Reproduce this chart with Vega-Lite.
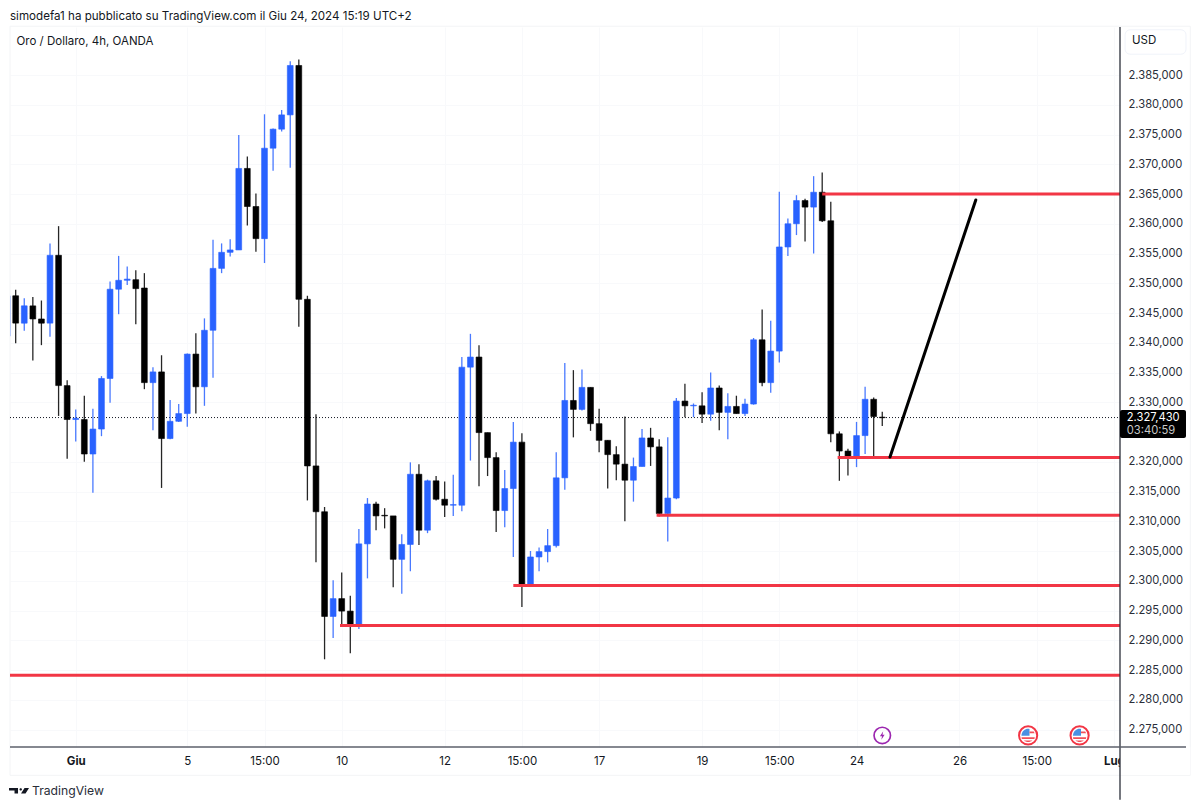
{"$schema":"https://vega.github.io/schema/vega-lite/v6.json","autosize":{"type":"none"},"width":1110,"height":720,"padding":{"left":10,"top":27,"right":80,"bottom":61},"background":"#ffffff",
"title":{"text":"simodefa1 ha pubblicato su TradingView.com il Giu 24, 2024 15:19 UTC+2","anchor":"start","frame":"group","offset":3,"dx":0,"font":"Inter","fontSize":11.6,"fontWeight":"normal","color":"#131722"},
"config":{"view":{"stroke":null}},
"datasets":{
"candles":[
{"i":0,"o":2341.1,"h":2347.9,"l":2341.1,"c":2347.9,"d":"up"},
{"i":1,"o":2347.9,"h":2348.9,"l":2339.9,"c":2343.3,"d":"down"},
{"i":2,"o":2343.3,"h":2347.5,"l":2342.0,"c":2346.2,"d":"up"},
{"i":3,"o":2346.2,"h":2347.7,"l":2337.0,"c":2344.0,"d":"down"},
{"i":4,"o":2344.0,"h":2347.1,"l":2339.6,"c":2343.3,"d":"down"},
{"i":5,"o":2343.3,"h":2356.7,"l":2341.0,"c":2354.7,"d":"up"},
{"i":6,"o":2354.7,"h":2359.6,"l":2327.7,"c":2332.8,"d":"down"},
{"i":7,"o":2332.8,"h":2333.7,"l":2320.5,"c":2327.1,"d":"down"},
{"i":8,"o":2327.1,"h":2328.8,"l":2323.4,"c":2327.3,"d":"up"},
{"i":9,"o":2327.1,"h":2331.1,"l":2320.0,"c":2321.3,"d":"down"},
{"i":10,"o":2321.3,"h":2328.9,"l":2314.8,"c":2325.5,"d":"up"},
{"i":11,"o":2325.5,"h":2334.4,"l":2324.3,"c":2334.0,"d":"up"},
{"i":12,"o":2334.0,"h":2350.3,"l":2329.9,"c":2349.0,"d":"up"},
{"i":13,"o":2349.0,"h":2354.6,"l":2344.8,"c":2350.5,"d":"up"},
{"i":14,"o":2350.5,"h":2352.8,"l":2349.7,"c":2350.7,"d":"up"},
{"i":15,"o":2350.6,"h":2352.2,"l":2343.1,"c":2349.1,"d":"down"},
{"i":16,"o":2349.2,"h":2351.7,"l":2332.2,"c":2333.3,"d":"down"},
{"i":17,"o":2333.3,"h":2335.9,"l":2325.3,"c":2335.1,"d":"up"},
{"i":18,"o":2335.1,"h":2337.9,"l":2315.6,"c":2323.9,"d":"down"},
{"i":19,"o":2323.9,"h":2330.4,"l":2323.8,"c":2326.8,"d":"up"},
{"i":20,"o":2326.8,"h":2329.7,"l":2326.7,"c":2328.1,"d":"up"},
{"i":21,"o":2328.1,"h":2338.2,"l":2325.9,"c":2338.1,"d":"up"},
{"i":22,"o":2338.1,"h":2341.6,"l":2328.1,"c":2332.6,"d":"down"},
{"i":23,"o":2332.6,"h":2344.1,"l":2329.4,"c":2342.1,"d":"up"},
{"i":24,"o":2342.1,"h":2357.3,"l":2334.1,"c":2352.5,"d":"up"},
{"i":25,"o":2352.5,"h":2356.7,"l":2351.7,"c":2355.2,"d":"up"},
{"i":26,"o":2355.2,"h":2357.4,"l":2354.5,"c":2355.6,"d":"up"},
{"i":27,"o":2355.6,"h":2374.9,"l":2355.6,"c":2369.3,"d":"up"},
{"i":28,"o":2369.3,"h":2371.3,"l":2359.7,"c":2362.9,"d":"down"},
{"i":29,"o":2362.9,"h":2365.1,"l":2355.3,"c":2357.5,"d":"down"},
{"i":30,"o":2357.5,"h":2378.4,"l":2353.4,"c":2372.7,"d":"up"},
{"i":31,"o":2372.7,"h":2376.0,"l":2368.9,"c":2375.9,"d":"up"},
{"i":32,"o":2375.9,"h":2379.1,"l":2375.5,"c":2378.3,"d":"up"},
{"i":33,"o":2378.3,"h":2387.3,"l":2369.4,"c":2386.6,"d":"up"},
{"i":34,"o":2386.6,"h":2387.6,"l":2342.7,"c":2347.3,"d":"down"},
{"i":35,"o":2347.3,"h":2347.9,"l":2313.5,"c":2319.3,"d":"down"},
{"i":36,"o":2319.3,"h":2328.0,"l":2303.1,"c":2311.6,"d":"down"},
{"i":37,"o":2311.6,"h":2312.4,"l":2286.8,"c":2294.0,"d":"down"},
{"i":38,"o":2294.0,"h":2300.1,"l":2290.4,"c":2297.0,"d":"up"},
{"i":39,"o":2297.0,"h":2301.4,"l":2292.7,"c":2294.9,"d":"down"},
{"i":40,"o":2294.9,"h":2297.5,"l":2287.8,"c":2292.5,"d":"down"},
{"i":41,"o":2292.5,"h":2308.7,"l":2291.9,"c":2306.2,"d":"up"},
{"i":42,"o":2306.2,"h":2313.9,"l":2300.4,"c":2312.9,"d":"up"},
{"i":43,"o":2312.9,"h":2313.3,"l":2308.5,"c":2310.9,"d":"down"},
{"i":44,"o":2311.0,"h":2312.2,"l":2308.8,"c":2310.9,"d":"down"},
{"i":45,"o":2310.9,"h":2310.9,"l":2298.9,"c":2303.6,"d":"down"},
{"i":46,"o":2303.6,"h":2307.8,"l":2297.8,"c":2306.1,"d":"up"},
{"i":47,"o":2306.1,"h":2319.9,"l":2301.6,"c":2317.9,"d":"up"},
{"i":48,"o":2317.9,"h":2319.6,"l":2306.0,"c":2308.5,"d":"down"},
{"i":49,"o":2308.5,"h":2317.0,"l":2308.0,"c":2316.8,"d":"up"},
{"i":50,"o":2316.8,"h":2317.6,"l":2313.5,"c":2313.7,"d":"down"},
{"i":51,"o":2313.7,"h":2316.7,"l":2310.7,"c":2312.7,"d":"down"},
{"i":52,"o":2312.7,"h":2317.8,"l":2310.9,"c":2312.8,"d":"up"},
{"i":53,"o":2312.7,"h":2337.6,"l":2311.7,"c":2335.9,"d":"up"},
{"i":54,"o":2335.9,"h":2341.5,"l":2320.2,"c":2337.6,"d":"up"},
{"i":55,"o":2337.6,"h":2339.6,"l":2315.9,"c":2324.9,"d":"down"},
{"i":56,"o":2324.9,"h":2324.9,"l":2317.6,"c":2320.7,"d":"down"},
{"i":57,"o":2320.7,"h":2321.6,"l":2308.2,"c":2311.8,"d":"down"},
{"i":58,"o":2311.8,"h":2318.6,"l":2309.0,"c":2315.5,"d":"up"},
{"i":59,"o":2315.5,"h":2326.7,"l":2304.0,"c":2323.3,"d":"up"},
{"i":60,"o":2323.3,"h":2324.8,"l":2295.6,"c":2299.2,"d":"down"},
{"i":61,"o":2299.2,"h":2305.0,"l":2299.2,"c":2304.0,"d":"up"},
{"i":62,"o":2304.0,"h":2305.6,"l":2301.6,"c":2304.9,"d":"up"},
{"i":63,"o":2304.9,"h":2308.7,"l":2303.1,"c":2305.9,"d":"up"},
{"i":64,"o":2305.9,"h":2321.6,"l":2305.6,"c":2317.3,"d":"up"},
{"i":65,"o":2317.3,"h":2336.6,"l":2315.3,"c":2330.3,"d":"up"},
{"i":66,"o":2330.3,"h":2335.4,"l":2324.1,"c":2328.8,"d":"down"},
{"i":67,"o":2328.8,"h":2335.5,"l":2328.6,"c":2332.5,"d":"up"},
{"i":68,"o":2332.5,"h":2332.5,"l":2325.2,"c":2326.4,"d":"down"},
{"i":69,"o":2326.4,"h":2328.9,"l":2321.6,"c":2323.6,"d":"down"},
{"i":70,"o":2323.6,"h":2323.6,"l":2315.5,"c":2321.2,"d":"down"},
{"i":71,"o":2321.2,"h":2322.6,"l":2316.9,"c":2319.6,"d":"down"},
{"i":72,"o":2319.6,"h":2327.6,"l":2310.0,"c":2316.9,"d":"down"},
{"i":73,"o":2316.9,"h":2320.7,"l":2313.3,"c":2319.2,"d":"up"},
{"i":74,"o":2319.2,"h":2325.5,"l":2319.2,"c":2324.0,"d":"up"},
{"i":75,"o":2324.0,"h":2325.7,"l":2319.3,"c":2322.5,"d":"down"},
{"i":76,"o":2322.5,"h":2323.8,"l":2310.8,"c":2311.3,"d":"down"},
{"i":77,"o":2311.3,"h":2324.1,"l":2306.6,"c":2313.9,"d":"up"},
{"i":78,"o":2313.9,"h":2330.7,"l":2313.7,"c":2330.2,"d":"up"},
{"i":79,"o":2330.2,"h":2333.1,"l":2327.5,"c":2329.4,"d":"down"},
{"i":80,"o":2329.4,"h":2329.8,"l":2327.5,"c":2329.5,"d":"up"},
{"i":81,"o":2329.4,"h":2331.7,"l":2326.5,"c":2328.0,"d":"down"},
{"i":82,"o":2328.0,"h":2335.0,"l":2326.9,"c":2332.4,"d":"up"},
{"i":83,"o":2332.4,"h":2332.8,"l":2325.3,"c":2328.3,"d":"down"},
{"i":84,"o":2328.3,"h":2331.5,"l":2323.8,"c":2329.3,"d":"up"},
{"i":85,"o":2329.3,"h":2331.1,"l":2328.1,"c":2328.1,"d":"down"},
{"i":86,"o":2328.1,"h":2330.6,"l":2327.7,"c":2329.7,"d":"up"},
{"i":87,"o":2329.7,"h":2340.8,"l":2329.6,"c":2340.5,"d":"up"},
{"i":88,"o":2340.5,"h":2345.6,"l":2332.7,"c":2333.3,"d":"down"},
{"i":89,"o":2333.3,"h":2343.7,"l":2331.6,"c":2338.6,"d":"up"},
{"i":90,"o":2338.6,"h":2365.4,"l":2336.7,"c":2356.1,"d":"up"},
{"i":91,"o":2356.1,"h":2360.9,"l":2354.6,"c":2360.0,"d":"up"},
{"i":92,"o":2360.0,"h":2364.8,"l":2358.1,"c":2363.9,"d":"up"},
{"i":93,"o":2363.9,"h":2364.2,"l":2357.0,"c":2362.8,"d":"down"},
{"i":94,"o":2362.8,"h":2368.0,"l":2355.0,"c":2365.3,"d":"up"},
{"i":95,"o":2365.3,"h":2368.6,"l":2360.3,"c":2360.5,"d":"down"},
{"i":96,"o":2360.5,"h":2363.7,"l":2323.3,"c":2324.7,"d":"down"},
{"i":97,"o":2324.7,"h":2325.1,"l":2316.8,"c":2321.8,"d":"down"},
{"i":98,"o":2321.8,"h":2322.2,"l":2317.7,"c":2320.8,"d":"down"},
{"i":99,"o":2320.8,"h":2326.7,"l":2319.1,"c":2324.4,"d":"up"},
{"i":100,"o":2324.4,"h":2332.6,"l":2321.3,"c":2330.5,"d":"up"},
{"i":101,"o":2330.5,"h":2330.8,"l":2320.7,"c":2327.6,"d":"down"},
{"i":102,"o":2327.5,"h":2328.4,"l":2326.0,"c":2327.4,"d":"down"}
],
"levels":[{"i":95,"i2":129.708,"y":2365.0},{"i":96.8,"i2":129.708,"y":2320.7},{"i":75.7,"i2":129.708,"y":2311.0},{"i":59,"i2":129.708,"y":2299.2},{"i":38.8,"i2":129.708,"y":2292.5},{"i":0.338,"i2":129.708,"y":2284.1}],
"trend":[{"i":102.9,"y":2320.8},{"i":112.9,"y":2364.0}],
"flags":[{"i":119,"y":2274.0},{"i":125,"y":2274.0}]
},
"encoding":{
"x":{"field":"i","type":"quantitative","title":null,"scale":{"domain":[0.338,129.708],"nice":false,"zero":false,"padding":0},
"axis":{"values":[8,21,30,39,51,60,69,81,90,99,111,120,129],"labelExpr":"{8:'Giu',21:'5',30:'15:00',39:'10',51:'12',60:'15:00',69:'17',81:'19',90:'15:00',99:'24',111:'26',120:'15:00',129:'Lug'}[datum.value]","labelFontWeight":{"expr":"datum.value==8||datum.value==129?'bold':'normal'"},"domain":false,"ticks":false,"labelFont":"Inter","labelFontSize":11.5,"labelColor":"#131722","labelPadding":8,"labelOverlap":false,"labelFlush":false,"gridColor":"#f8f9fb","grid":true}},
"y":{"field":"y","type":"quantitative","title":null,"scale":{"domain":[2272.06,2393.07],"nice":false,"zero":false},
"axis":{"orient":"right","values":[2275,2280,2285,2290,2295,2300,2305,2310,2315,2320,2330,2335,2340,2345,2350,2355,2360,2365,2370,2375,2380,2385],"labelExpr":"'2.'+(datum.value-2000)+',000'","domain":false,"ticks":false,"labelFont":"Inter","labelFontSize":11.2,"labelColor":"#2a2e39","labelPadding":8,"labelAlign":"left","labelOverlap":false,"gridColor":"#f8f9fb","grid":true}}
},
"layer":[
{"data":{"values":[{"i":0.338,"i2":137.9,"y":2393.2,"y2":2267.3}]},"mark":{"type":"rect","fillOpacity":0,"stroke":"#f3f4f6","strokeWidth":1},"encoding":{"x2":{"field":"i2"},"y2":{"field":"y2"}}},
{"data":{"values":[{"y":2327.43,"i":0.338,"i2":129.708}]},"mark":{"type":"rule","stroke":"#131722","strokeWidth":1,"strokeDash":[1,2]},"encoding":{"x2":{"field":"i2"}}},
{"data":{"name":"candles"},"mark":{"type":"rule","strokeWidth":1.3,"opacity":0.85,"clip":true},"encoding":{"y":{"field":"h","type":"quantitative","title":null,"scale":{"domain":[2272.06,2393.07],"nice":false,"zero":false},"axis":{"orient":"right","values":[2275,2280,2285,2290,2295,2300,2305,2310,2315,2320,2330,2335,2340,2345,2350,2355,2360,2365,2370,2375,2380,2385],"labelExpr":"'2.'+(datum.value-2000)+',000'","domain":false,"ticks":false,"labelFont":"Inter","labelFontSize":11.2,"labelColor":"#2a2e39","labelPadding":8,"labelAlign":"left","labelOverlap":false,"gridColor":"#f8f9fb","grid":true}},"y2":{"field":"l"},"color":{"field":"d","type":"nominal","legend":null,"scale":{"domain":["up","down"],"range":["#2962FF","#000000"]}}}},
{"data":{"name":"candles"},"mark":{"type":"bar","width":5.8,"strokeWidth":0.6,"clip":true},"encoding":{"y":{"field":"o","type":"quantitative","title":null,"scale":{"domain":[2272.06,2393.07],"nice":false,"zero":false},"axis":{"orient":"right","values":[2275,2280,2285,2290,2295,2300,2305,2310,2315,2320,2330,2335,2340,2345,2350,2355,2360,2365,2370,2375,2380,2385],"labelExpr":"'2.'+(datum.value-2000)+',000'","domain":false,"ticks":false,"labelFont":"Inter","labelFontSize":11.2,"labelColor":"#2a2e39","labelPadding":8,"labelAlign":"left","labelOverlap":false,"gridColor":"#f8f9fb","grid":true}},"y2":{"field":"c"},"color":{"field":"d","type":"nominal","legend":null,"scale":{"domain":["up","down"],"range":["#2962FF","#000000"]}},"stroke":{"field":"d","type":"nominal","legend":null,"scale":{"domain":["up","down"],"range":["#2962FF","#000000"]}}}},
{"data":{"name":"levels"},"mark":{"type":"rule","stroke":"#f23645","strokeWidth":3},"encoding":{"x2":{"field":"i2"}}},
{"data":{"name":"trend"},"mark":{"type":"line","stroke":"#000000","strokeWidth":3,"strokeCap":"round"}},
{"data":{"values":[{"i":129.708,"i2":137.9,"y":2272.0,"y2":2267.4}]},"mark":{"type":"rect","fill":"#ffffff"},"encoding":{"x2":{"field":"i2"},"y2":{"field":"y2"}}},
{"data":{"values":[{"i":129.708,"y":2393.07,"y2":2263.2}]},"mark":{"type":"rule","stroke":"#2a2e39","strokeWidth":1.3},"encoding":{"y2":{"field":"y2"}}},
{"data":{"values":[{"i":0.338,"i2":137.4,"y":2272.06}]},"mark":{"type":"rule","stroke":"#5d606b","strokeWidth":1.3},"encoding":{"x2":{"field":"i2"}}},
{"data":{"values":[{"i":130.3,"i2":137.4,"y":2392.6,"y2":2388.5}]},"mark":{"type":"rect","fill":"#ffffff","stroke":"#f0f3fa","cornerRadius":5},"encoding":{"x2":{"field":"i2"},"y2":{"field":"y2"}}},
{"data":{"values":[{"i":131.1,"y":2390.7,"t":"USD"}]},"mark":{"type":"text","align":"left","baseline":"middle","font":"Inter","fontSize":11.5,"color":"#131722"},"encoding":{"text":{"field":"t"}}},
{"data":{"values":[{"i":129.708,"i2":137.4,"y":2328.7,"y2":2324.0}]},"mark":{"type":"rect","fill":"#000000","cornerRadius":2},"encoding":{"x2":{"field":"i2"},"y2":{"field":"y2"}}},
{"data":{"values":[{"i":130.5,"y":2327.4,"t":"2.327,430"}]},"mark":{"type":"text","align":"left","baseline":"middle","font":"Inter","fontSize":11.2,"color":"#ffffff"},"encoding":{"text":{"field":"t"}}},
{"data":{"values":[{"i":130.5,"y":2325.1,"t":"03:40:59"}]},"mark":{"type":"text","align":"left","baseline":"middle","font":"Inter","fontSize":11.2,"color":"#c8c8c8"},"encoding":{"text":{"field":"t"}}},
{"data":{"values":[{"i":1.1,"y":2390.6,"t":"Oro / Dollaro, 4h, OANDA"}]},"mark":{"type":"text","align":"left","baseline":"middle","font":"Inter","fontSize":11.5,"color":"#131722"},"encoding":{"text":{"field":"t"}}},
{"data":{"values":[{"i":102,"y":2274.0}]},"mark":{"type":"point","shape":"circle","size":270,"filled":false,"stroke":"#9c27b0","strokeWidth":1.7,"opacity":1}},
{"data":{"values":[{"i":102,"y":2274.0}]},"mark":{"type":"point","shape":"M0.2,-0.9 L-0.5,0.15 L-0.05,0.15 L-0.2,0.9 L0.5,-0.15 L0.05,-0.15 Z","size":90,"filled":true,"fill":"#9c27b0","opacity":1}},
{"data":{"name":"flags"},"mark":{"type":"point","shape":"circle","size":330,"filled":true,"fill":"#ffffff","stroke":"#f23645","strokeWidth":2,"opacity":1}},
{"data":{"name":"flags"},"mark":{"type":"point","shape":"M-0.95,0.05 A0.95,0.95 0 0 1 0.2,-0.93 L0.2,0.05 Z","size":196,"filled":true,"fill":"#4a90e2","opacity":1}},
{"data":{"name":"flags"},"mark":{"type":"point","shape":"M0.2,-0.55 L0.8,-0.55 L0.93,-0.3 L0.2,-0.3 Z M-0.95,0.25 L0.95,0.25 L0.9,0.5 L-0.9,0.5 Z M-0.6,0.72 L0.6,0.72 A0.95,0.95 0 0 1 -0.6,0.72 Z","size":196,"filled":true,"fill":"#f2505a","opacity":1}},
{"data":{"values":[{"i":1.39,"y":2264.7}]},"mark":{"type":"point","shape":"M-1,-0.28 L-0.1,-0.28 L-0.1,0.28 L-0.45,0.28 L-0.45,-0.02 L-1,-0.02 Z M0.55,-0.28 L1,-0.28 L0.65,0.28 L0.2,0.28 Z M0.17,-0.26 A0.12,0.12 0 1 1 0.17,-0.02 A0.12,0.12 0 1 1 0.17,-0.26 Z","size":400,"filled":true,"fill":"#131722","opacity":1}},
{"data":{"values":[{"i":2.9,"y":2264.7,"t":"TradingView"}]},"mark":{"type":"text","align":"left","baseline":"middle","font":"Inter","fontSize":12.2,"fontWeight":400,"color":"#2a2e39"},"encoding":{"text":{"field":"t"}}}
]
}
